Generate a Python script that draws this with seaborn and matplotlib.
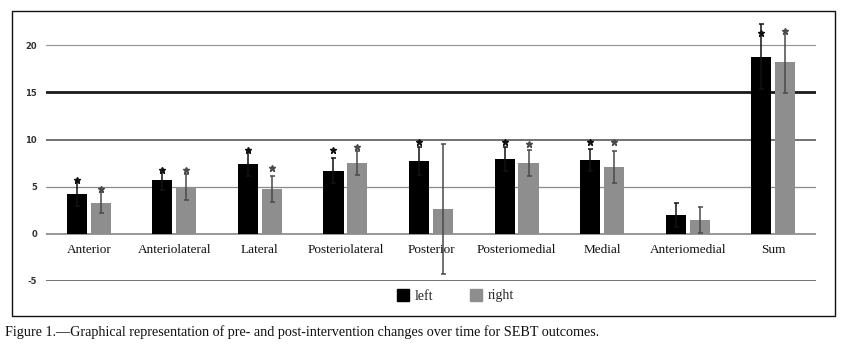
import numpy as np
import pandas as pd
import matplotlib
matplotlib.use("Agg")
import matplotlib.pyplot as plt
import seaborn as sns
from matplotlib.patches import Rectangle
from matplotlib.lines import Line2D

categories = ["Anterior", "Anteriolateral", "Lateral", "Posteriolateral", "Posterior",
              "Posteriomedial", "Medial", "Anteriomedial", "Sum"]
left_mean = [4.2, 5.7, 7.4, 6.7, 7.75, 7.95, 7.85, 2.0, 18.8]
left_sd = [1.25, 1.0, 1.3, 1.3, 1.5, 1.3, 1.2, 1.25, 3.45]
right_mean = [3.3, 5.0, 4.75, 7.5, 2.6, 7.5, 7.05, 1.45, 18.25]
right_sd = [1.1, 1.4, 1.4, 1.25, 6.9, 1.4, 1.7, 1.35, 3.3]
left_star = [5.75, 6.75, 8.9, 8.9, 9.75, 9.7, 9.7, None, 21.3]
right_star = [4.75, 6.75, 7.0, 9.25, None, 9.5, 9.7, None, 21.5]
y_ticks = [-5, 0, 5, 10, 15, 20]
series = ["left", "right"]
caption = "Figure 1.\u2014Graphical representation of pre- and post-intervention changes over time for SEBT outcomes."

df = pd.DataFrame({
    "direction": categories * 2,
    "value": left_mean + right_mean,
    "side": ["left"] * len(categories) + ["right"] * len(categories),
})

sns.set_theme(style="white")
plt.rcParams["font.family"] = ["DejaVu Sans"]
serif = ["Liberation Serif", "DejaVu Serif"]

W, H = 852, 347
fig = plt.figure(figsize=(W / 100, H / 100), dpi=100)
fig.patch.set_facecolor("white")

ax = fig.add_axes([46 / W, 1 - 281 / H, 770 / W, (281 - 17) / H])
colors = {"left": "#000000", "right": "#8e8e8e"}
err_colors = {"left": "#111111", "right": "#4a4a4a"}

# gridlines (behind bars)
grid_styles = {20: ("#9a9a9a", 0.9), 15: ("#1a1a1a", 2.0), 10: ("#4a4a4a", 1.1),
               5: ("#8a8a8a", 0.9), 0: ("#7a7a7a", 1.1), -5: ("#4a4a4a", 1.1)}
for t in y_ticks:
    c, lw = grid_styles[t]
    ax.axhline(t, color=c, lw=lw, zorder=0)

sns.barplot(data=df, x="direction", y="value", hue="side", hue_order=series,
            palette=colors, width=0.56, gap=0.16, errorbar=None, ax=ax,
            legend=False, saturation=1, edgecolor="none", linewidth=0, zorder=2)

means = {"left": left_mean, "right": right_mean}
sds = {"left": left_sd, "right": right_sd}
stars = {"left": left_star, "right": right_star}
for cont, s in zip(ax.containers, series):
    xs = [p.get_x() + p.get_width() / 2 for p in cont.patches]
    ax.errorbar(xs, means[s], yerr=sds[s], fmt="none", ecolor=err_colors[s],
                elinewidth=1.1, capsize=1.8, capthick=1.1, zorder=3)
    for x, sy in zip(xs, stars[s]):
        if sy is not None:
            ax.plot(x, sy, marker="*", ms=4.5, color=err_colors[s], mec=err_colors[s], zorder=4)

ax.set_xlim(-0.5, len(categories) - 0.5)
ax.set_ylim(-5, 23)
ax.set_yticks(y_ticks)
ax.set_yticklabels([str(t) for t in y_ticks], fontsize=6, fontweight="bold", color="#333333")
ax.tick_params(axis="y", length=0, pad=6.5)
ax.set_xticks([])
ax.set_xlabel("")
ax.set_ylabel("")
for sp in ax.spines.values():
    sp.set_visible(False)
ax.set_facecolor("none")

for i, cat in enumerate(categories):
    ax.text(i, -1.05, cat, ha="center", va="top", fontsize=9.5, family=serif, color="#111111")

handles = [Line2D([], [], marker="s", ls="none", ms=9, color=colors[s]) for s in series]
fig.legend(handles, series, loc="center", bbox_to_anchor=(455 / W, 1 - 296 / H), ncol=2,
           frameon=False, prop={"family": serif, "size": 10}, handletextpad=0.35,
           columnspacing=2.6, handlelength=1.0)

fig.add_artist(Rectangle((12 / W, 1 - 316 / H), (835 - 12) / W, (316 - 11) / H,
                         transform=fig.transFigure, fill=False, ec="#111111", lw=1.0))
fig.text(5 / W, 1 - 332 / H, caption, ha="left", va="center", fontsize=10.2, family=serif,
         color="#111111")

fig.savefig("out.png", dpi=100, facecolor="white")
